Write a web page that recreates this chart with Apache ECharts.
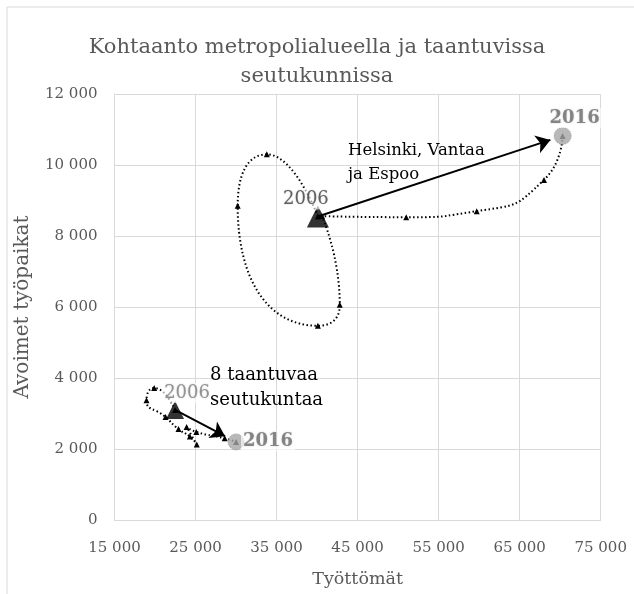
<!DOCTYPE html>
<html>
<head>
<meta charset="utf-8">
<script src="https://cdn.jsdelivr.net/npm/echarts@6/dist/echarts.min.js"></script>
<style>
html,body{margin:0;padding:0;background:#fff;}
#chart{width:634px;height:594px;}
</style>
</head>
<body>
<div id="chart"></div>
<script>
// ---- data ----
var startYear = '2006';
var endYear = '2016';
var metroUnemployed  = [40100, 33800, 30200, 40100, 42800, 40600, 51000, 59700, 68000, 70300];
var metroVacancies   = [8550, 10300, 8850, 5470, 6060, 8560, 8530, 8700, 9580, 10820];
var regionUnemployed = [22470, 19900, 18950, 21300, 22900, 24300, 25150, 23900, 25100, 28600, 30000];
var regionVacancies  = [3100, 3720, 3370, 2900, 2560, 2350, 2130, 2620, 2480, 2300, 2200];
var xTicks = [15000, 25000, 35000, 45000, 55000, 65000, 75000];
var yTicks = [0, 2000, 4000, 6000, 8000, 10000, 12000];

var FONT = 'DejaVu Serif';
function pairs(xs, ys){ return xs.map(function(v,i){ return [v, ys[i]]; }); }
function fmt(v){ return String(v).replace(/\B(?=(\d{3})+(?!\d))/g, ' '); }
function arrowEnd(xs, ys, f){
  var a=[xs[0],ys[0]], b=[xs[xs.length-1], ys[ys.length-1]];
  return [a[0]+(b[0]-a[0])*f, a[1]+(b[1]-a[1])*f];
}

var metro = pairs(metroUnemployed, metroVacancies);
var region = pairs(regionUnemployed, regionVacancies);

function pathSeries(data){
  return {
    type:'line', data:data, smooth:0.6,
    symbol:'triangle', symbolSize:6,
    itemStyle:{color:'#000'},
    lineStyle:{color:'#000', width:2, type:[1.5,2.5]},
    z:3, silent:true
  };
}
function endSeries(data, o){
  var first = data[0], last = data[data.length-1];
  return {
    type:'scatter', z:5, silent:true,
    data:[
      {value:first, symbol:'triangle', symbolSize:o.triSize, itemStyle:{color:'#000'},
       label:{show:true, formatter:startYear, position:'inside', offset:o.startOff,
              color:o.startColor, fontFamily:FONT, fontSize:18, backgroundColor:'rgba(255,255,255,0.8)', padding:[1,2],
              textShadowColor:'rgba(0,0,0,0.25)', textShadowBlur:2}},
      {value:last, symbol:'circle', symbolSize:o.circSize, itemStyle:{color:'#a6a6a6', borderColor:'#8c8c8c', borderWidth:1, borderType:'dotted'},
       label:{show:true, formatter:endYear, position:'inside', offset:o.endOff,
              color:'#6f6f6f', fontFamily:FONT, fontSize:18, fontWeight:'bold', backgroundColor:'rgba(255,255,255,0.8)', padding:[1,2],
              textShadowColor:'rgba(0,0,0,0.25)', textShadowBlur:2}}
    ]
  };
}
function arrowSeries(xs, ys, f){
  return {
    type:'lines', coordinateSystem:'cartesian2d', z:4, silent:true,
    symbol:['none','arrow'], symbolSize:[0,14],
    lineStyle:{color:'#000', width:2, opacity:1},
    data:[{coords:[[xs[0], ys[0]], arrowEnd(xs, ys, f)]}]
  };
}

var chart = echarts.init(document.getElementById('chart'), null, {renderer:'canvas'});
chart.setOption({
  animation:false,
  backgroundColor:'#fff',
  title:{
    text:'Kohtaanto metropolialueella ja taantuvissa\nseutukunnissa',
    left:'center', top:28,
    textStyle:{fontFamily:FONT, fontSize:21, fontWeight:'normal', color:'#595959', lineHeight:29}
  },
  grid:{left:114.5, right:33.3, top:94, bottom:74, containLabel:false, outerBoundsMode:'none'},
  xAxis:{
    type:'value', min:15000, max:75000, interval:10000,
    name:'Työttömät', nameLocation:'middle', nameGap:50,
    nameTextStyle:{fontFamily:FONT, fontSize:17.5, color:'#595959'},
    axisLine:{show:true, lineStyle:{color:'#d9d9d9'}},
    axisTick:{show:false},
    axisLabel:{fontFamily:FONT, fontSize:15, color:'#595959', margin:21, formatter:fmt},
    splitLine:{show:true, lineStyle:{color:'#d9d9d9'}}
  },
  yAxis:{
    type:'value', min:0, max:12000, interval:2000,
    name:'Avoimet työpaikat', nameLocation:'middle', nameGap:82,
    nameTextStyle:{fontFamily:FONT, fontSize:20, color:'#595959'},
    axisLine:{show:true, lineStyle:{color:'#d9d9d9'}},
    axisTick:{show:false},
    axisLabel:{fontFamily:FONT, fontSize:15, color:'#595959', margin:17, formatter:fmt},
    splitLine:{show:true, lineStyle:{color:'#d9d9d9'}}
  },
  graphic:[
    {type:'rect', shape:{x:7, y:7, width:700, height:700}, style:{fill:'none', stroke:'#d9d9d9', lineWidth:1}, silent:true, z:-1},
    {type:'text', left:348, top:139, style:{text:'Helsinki, Vantaa\nja Espoo', fontFamily:FONT, fontSize:16.5, lineHeight:24, fill:'#000'}, z:10},
    {type:'text', left:210, top:363, style:{text:'8 taantuvaa\nseutukuntaa', fontFamily:FONT, fontSize:18, lineHeight:25, fill:'#000'}, z:10}
  ],
  series:[
    pathSeries(metro),
    pathSeries(region),
    arrowSeries(metroUnemployed, metroVacancies, 0.95),
    arrowSeries(regionUnemployed, regionVacancies, 0.82),
    endSeries(metro,  {triSize:22, circSize:17, startOff:[-12,-17], endOff:[12,-18], startColor:'#404040'}),
    endSeries(region, {triSize:18, circSize:16, startOff:[12,-17], endOff:[32,-1], startColor:'#7f7f7f'})
  ]
});
</script>
</body>
</html>
